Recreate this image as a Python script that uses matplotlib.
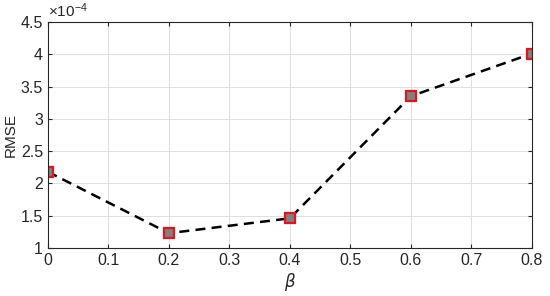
import matplotlib.pyplot as plt
from matplotlib.ticker import FuncFormatter

beta = [0, 0.2, 0.4, 0.6, 0.8]
rmse = [2.18e-4, 1.23e-4, 1.46e-4, 3.35e-4, 4.01e-4]
yticks = [1e-4, 1.5e-4, 2e-4, 2.5e-4, 3e-4, 3.5e-4, 4e-4, 4.5e-4]
xticks = [0, 0.1, 0.2, 0.3, 0.4, 0.5, 0.6, 0.7, 0.8]

plt.rcParams['font.family'] = ['Liberation Sans', 'DejaVu Sans']
plt.rcParams['mathtext.fontset'] = 'custom'
plt.rcParams['mathtext.rm'] = 'Liberation Sans'

txt = '#262626'

fig = plt.figure(figsize=(5.5, 2.96), dpi=100)
ax = fig.add_axes([0.087, 0.162, 0.880, 0.764])

ax.plot(beta, rmse, '--', color='black', linewidth=1.8, dashes=(4, 2.5),
        marker='s', markersize=6.5, markerfacecolor='#808080',
        markeredgecolor='#e3141c', markeredgewidth=1.6)

ax.set_xlim(0, 0.8)
ax.set_ylim(1e-4, 4.5e-4)
ax.set_xticks(xticks)
ax.set_yticks(yticks)
ax.xaxis.set_major_formatter(FuncFormatter(lambda v, p: '%g' % round(v, 3)))
ax.yaxis.set_major_formatter(FuncFormatter(lambda v, p: '%g' % round(v / 1e-4, 3)))
# offset text like MATLAB's exponent label
ax.text(0.0, 1.01, r'$\times\mathregular{10^{-4}}$', transform=ax.transAxes,
        fontsize=11, color=txt, ha='left', va='bottom')

ax.grid(True, color='#dedede', linewidth=0.7)
ax.set_axisbelow(True)
ax.tick_params(direction='in', top=True, right=True, labelsize=11.5,
               colors=txt, length=3)
for s in ax.spines.values():
    s.set_color(txt)
    s.set_linewidth(0.8)

ax.set_xlabel(r'$\beta$', fontsize=12, color=txt, labelpad=2)
ax.set_ylabel('RMSE', fontsize=11, color=txt, labelpad=2)

fig.savefig('out.png', dpi=100)
